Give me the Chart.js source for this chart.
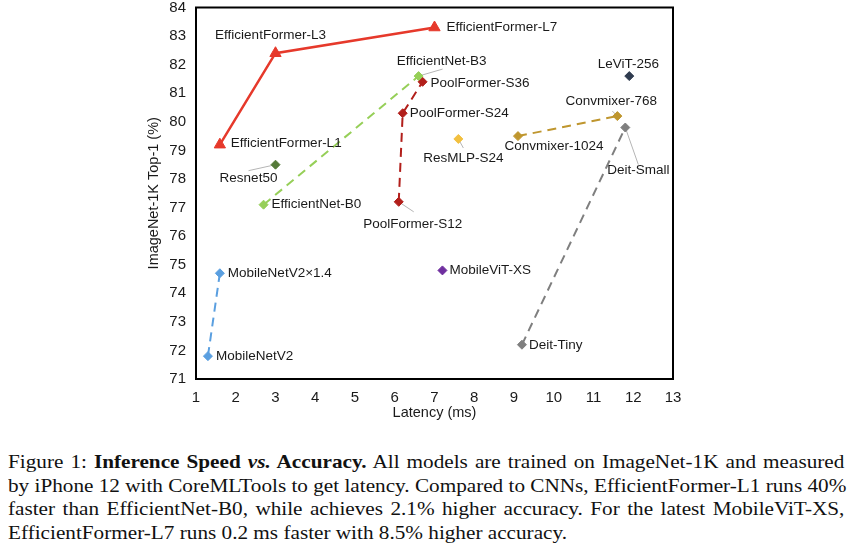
<!DOCTYPE html>
<html>
<head>
<meta charset="utf-8">
<script src="https://cdn.jsdelivr.net/npm/chart.js@4.4.1/dist/chart.umd.min.js"></script>
<style>
  html, body { margin: 0; padding: 0; background: #fff; }
  #wrap { position: relative; width: 856px; height: 544px; overflow: hidden; }
  #chart { position: absolute; left: 0; top: 0; }
  #caption {
    position: absolute; left: 8px; top: 451px; width: 721px;
    transform: scaleX(1.16); transform-origin: 0 0;
    font-family: "Liberation Serif", "Times New Roman", serif;
    font-size: 18.3px; line-height: 23.7px; color: #111;
  }
  #caption .j { text-align: justify; text-align-last: justify; white-space: nowrap; }
  #caption .l { text-align: left; white-space: nowrap; }
</style>
</head>
<body>
<div id="wrap">
  <canvas id="chart" width="856" height="430"></canvas>
  <div id="caption">
    <div class="j">Figure 1: <b>Inference Speed <i>vs.</i> Accuracy.</b> All models are trained on ImageNet-1K and measured</div>
    <div class="j">by iPhone 12 with CoreMLTools to get latency. Compared to CNNs, EfficientFormer-L1 runs 40%</div>
    <div class="j">faster than EfficientNet-B0, while achieves 2.1% higher accuracy. For the latest MobileViT-XS,</div>
    <div class="l">EfficientFormer-L7 runs 0.2 ms faster with 8.5% higher accuracy.</div>
  </div>
</div>
<script>
// latency (ms) / ImageNet-1K top-1 (%) per model family
const effFormerNames = ['EfficientFormer-L1', 'EfficientFormer-L3', 'EfficientFormer-L7'];
const effFormerLatency = [1.6, 3.0, 7.0];
const effFormerTop1 = [79.2, 82.4, 83.3];

const effNetNames = ['EfficientNet-B0', 'EfficientNet-B3'];
const effNetLatency = [2.7, 6.6];
const effNetTop1 = [77.1, 81.6];

const poolNames = ['PoolFormer-S12', 'PoolFormer-S24', 'PoolFormer-S36'];
const poolLatency = [6.1, 6.2, 6.7];
const poolTop1 = [77.2, 80.3, 81.4];

const mobileNames = ['MobileNetV2', 'MobileNetV2×1.4'];
const mobileLatency = [1.3, 1.6];
const mobileTop1 = [71.8, 74.7];

const deitNames = ['Deit-Tiny', 'Deit-Small'];
const deitLatency = [9.2, 11.8];
const deitTop1 = [72.2, 79.8];

const convNames = ['Convmixer-1024', 'Convmixer-768'];
const convLatency = [9.1, 11.6];
const convTop1 = [79.5, 80.2];

const singleNames = ['ResMLP-S24', 'Resnet50', 'LeViT-256', 'MobileViT-XS'];
const singleLatency = [7.6, 3.0, 11.9, 7.2];
const singleTop1 = [79.4, 78.5, 81.6, 74.8];

const xTicks = [1, 2, 3, 4, 5, 6, 7, 8, 9, 10, 11, 12, 13];
const yTicks = [71, 72, 73, 74, 75, 76, 77, 78, 79, 80, 81, 82, 83, 84];

// where each name sits relative to its marker (px), plus optional leader line
const placement = {
  'EfficientFormer-L1': { dx: 11, dy: -1, align: 'left' },
  'EfficientFormer-L3': { dx: -5, dy: -18, align: 'center' },
  'EfficientFormer-L7': { dx: 12, dy: 0, align: 'left' },
  'EfficientNet-B0': { dx: 8, dy: 0, align: 'left' },
  'EfficientNet-B3': { dx: 23, dy: -15, align: 'center', leader: [24, -7] },
  'PoolFormer-S12': { dx: 14, dy: 22, align: 'center', leader: [15, 10] },
  'PoolFormer-S24': { dx: 7, dy: 0, align: 'left' },
  'PoolFormer-S36': { dx: 8, dy: 1, align: 'left' },
  'MobileNetV2': { dx: 8, dy: 0, align: 'left' },
  'MobileNetV2×1.4': { dx: 8, dy: 0, align: 'left' },
  'Deit-Tiny': { dx: 7, dy: 1, align: 'left' },
  'Deit-Small': { dx: 13, dy: 43, align: 'center', leader: [13, 37] },
  'Convmixer-1024': { dx: 36, dy: 10, align: 'center' },
  'Convmixer-768': { dx: -6, dy: -15, align: 'center', leader: [-5, -5] },
  'ResMLP-S24': { dx: 5, dy: 19, align: 'center', leader: [5, 9] },
  'Resnet50': { dx: -27, dy: 14, align: 'center', leader: [-27, 6] },
  'LeViT-256': { dx: -1, dy: -12, align: 'center' },
  'MobileViT-XS': { dx: 7, dy: 0, align: 'left' },
};

const pts = (xs, ys) => xs.map((x, i) => ({ x, y: ys[i] }));

function series(names, xs, ys, color, opts) {
  return Object.assign({
    names,
    data: pts(xs, ys),
    showLine: true,
    borderColor: color,
    backgroundColor: color,
    pointBackgroundColor: color,
    pointBorderColor: color,
    pointStyle: 'rectRot',
    pointRadius: 4.5,
    pointBorderWidth: 1,
    borderWidth: 2,
    borderDash: [9, 6],
  }, opts || {});
}

const singleColors = ['#f2c040', '#557a38', '#2f3b4f', '#6f2f9f'];

const datasets = [
  series(mobileNames, mobileLatency, mobileTop1, '#5a9fe0'),
  series(deitNames, deitLatency, deitTop1, '#7f7f7f'),
  series(convNames, convLatency, convTop1, '#bf962e'),
  series(effNetNames, effNetLatency, effNetTop1, '#96cf58'),
  series(poolNames, poolLatency, poolTop1, '#b21f1b'),
  ...singleNames.map((n, i) => series([n], [singleLatency[i]], [singleTop1[i]], singleColors[i], { showLine: false })),
  series(effFormerNames, effFormerLatency, effFormerTop1, '#e6392b',
    { borderDash: [], borderWidth: 2.5, pointStyle: 'triangle', pointRadius: 6.5 }),
];

const framePlugin = {
  id: 'frame',
  beforeDatasetsDraw(chart) {
    const { ctx, chartArea: a } = chart;
    ctx.save();
    ctx.strokeStyle = '#000';
    ctx.lineWidth = 2;
    ctx.strokeRect(a.left, a.top, a.right - a.left, a.bottom - a.top);
    // leader lines under the markers
    ctx.strokeStyle = '#b5b5b5';
    ctx.lineWidth = 1;
    chart.data.datasets.forEach((ds, i) => {
      chart.getDatasetMeta(i).data.forEach((el, j) => {
        const p = placement[ds.names[j]];
        if (!p || !p.leader) return;
        ctx.beginPath();
        ctx.moveTo(el.x, el.y);
        ctx.lineTo(el.x + p.leader[0], el.y + p.leader[1]);
        ctx.stroke();
      });
    });
    ctx.restore();
  },
};

const namePlugin = {
  id: 'names',
  afterDatasetsDraw(chart) {
    const ctx = chart.ctx;
    ctx.save();
    ctx.font = '13.5px "Liberation Sans", Arial, sans-serif';
    ctx.fillStyle = '#1a1a1a';
    ctx.textBaseline = 'middle';
    chart.data.datasets.forEach((ds, i) => {
      chart.getDatasetMeta(i).data.forEach((el, j) => {
        const name = ds.names[j];
        const p = placement[name] || { dx: 8, dy: 0, align: 'left' };
        ctx.textAlign = p.align;
        ctx.fillText(name, el.x + p.dx, el.y + p.dy);
      });
    });
    ctx.restore();
  },
};

Chart.defaults.font.family = '"Liberation Sans", Arial, sans-serif';
Chart.defaults.color = '#1a1a1a';

new Chart(document.getElementById('chart'), {
  type: 'scatter',
  data: { datasets },
  options: {
    responsive: false,
    animation: false,
    layout: { padding: { left: 140, right: 183, top: 7, bottom: 0 } },
    plugins: { legend: { display: false }, tooltip: { enabled: false } },
    scales: {
      x: {
        type: 'linear',
        min: xTicks[0], max: xTicks[xTicks.length - 1],
        afterBuildTicks: s => { s.ticks = xTicks.map(v => ({ value: v })); },
        afterFit: s => { s.height = 51; s.paddingLeft = 0; s.paddingRight = 0; },
        grid: { display: false, drawTicks: false },
        border: { display: false },
        ticks: { padding: 10, font: { size: 15 }, color: '#1a1a1a' },
        title: { display: true, text: 'Latency (ms)', font: { size: 14.5 }, padding: { top: 0, bottom: 8 }, color: '#1a1a1a' },
      },
      y: {
        type: 'linear',
        min: yTicks[0], max: yTicks[yTicks.length - 1],
        afterBuildTicks: s => { s.ticks = yTicks.map(v => ({ value: v })); },
        afterFit: s => { s.width = 56; s.paddingTop = 0; s.paddingBottom = 0; },
        grid: { display: false, drawTicks: false },
        border: { display: false },
        ticks: { padding: 10, font: { size: 15 }, color: '#1a1a1a' },
        title: { display: true, text: 'ImageNet-1K Top-1 (%)', font: { size: 14.5 }, padding: { top: 5, bottom: 0 }, color: '#1a1a1a' },
      },
    },
  },
  plugins: [framePlugin, namePlugin],
});
</script>
</body>
</html>
